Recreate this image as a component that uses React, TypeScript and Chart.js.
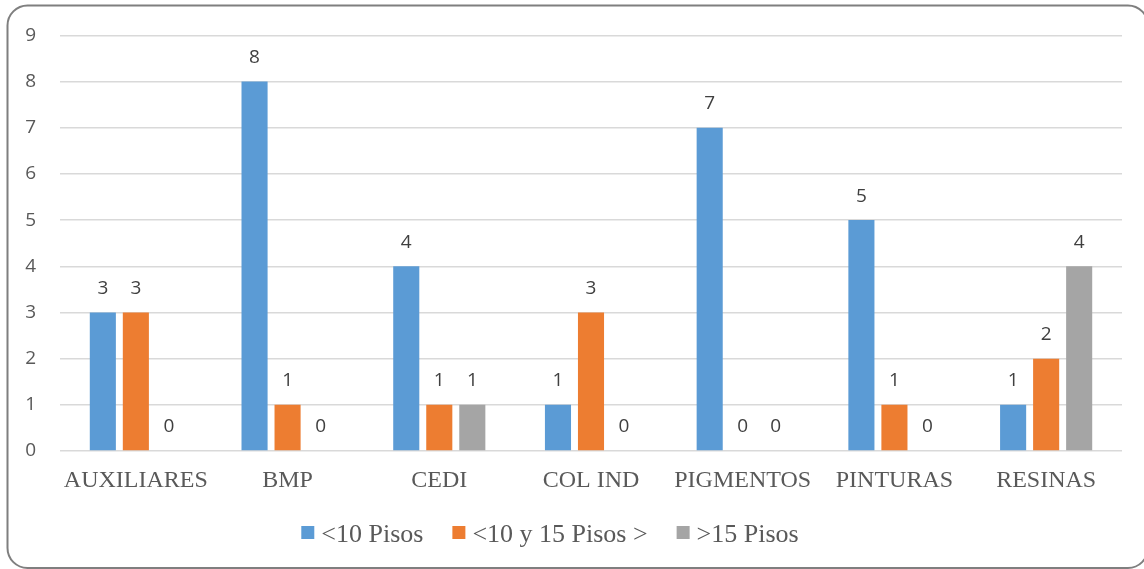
import React, { useEffect, useRef } from "react";
import { Chart, registerables } from "chart.js";

Chart.register(...registerables);

const categories = ["AUXILIARES", "BMP", "CEDI", "COL IND", "PIGMENTOS", "PINTURAS", "RESINAS"];
const seriesNames = ["<10 Pisos", "<10 y 15 Pisos >", ">15 Pisos"];
const menos10 = [3, 8, 4, 1, 7, 5, 1];
const entre10y15 = [3, 1, 1, 3, 0, 1, 2];
const mas15 = [0, 0, 1, 0, 0, 0, 4];
const seriesColors = ["#5B9BD5", "#ED7D31", "#A5A5A5"];

const SANS = "'Open Sans', 'Liberation Sans', sans-serif";
const SERIF = "'Liberation Serif', 'DejaVu Serif', serif";
const TEXT = "#595959";

// Rounded outline around the whole chart
const framePlugin = {
  id: "frame",
  beforeDraw(chart: any) {
    const ctx = chart.ctx;
    const x = 7.5, y = 5.5, r = 20;
    const w = 1148 - x, h = 568 - y;
    ctx.save();
    ctx.fillStyle = "#ffffff";
    ctx.fillRect(0, 0, chart.width, chart.height);
    ctx.beginPath();
    ctx.moveTo(x + r, y);
    ctx.lineTo(x + w - r, y);
    ctx.arcTo(x + w, y, x + w, y + r, r);
    ctx.lineTo(x + w, y + h - r);
    ctx.arcTo(x + w, y + h, x + w - r, y + h, r);
    ctx.lineTo(x + r, y + h);
    ctx.arcTo(x, y + h, x, y + h - r, r);
    ctx.lineTo(x, y + r);
    ctx.arcTo(x, y, x + r, y, r);
    ctx.closePath();
    ctx.strokeStyle = "#7f7f7f";
    ctx.lineWidth = 2;
    ctx.stroke();
    ctx.restore();
  },
};

// Value labels above each bar
const valueLabelPlugin = {
  id: "valueLabels",
  afterDatasetsDraw(chart: any) {
    const ctx = chart.ctx;
    ctx.save();
    ctx.font = `19px ${SANS}`;
    ctx.fillStyle = "#404040";
    ctx.textAlign = "center";
    ctx.textBaseline = "middle";
    chart.data.datasets.forEach((ds: any, i: number) => {
      const meta = chart.getDatasetMeta(i);
      meta.data.forEach((bar: any, j: number) => {
        ctx.fillText(String(ds.data[j]), bar.x, bar.y - 24);
      });
    });
    ctx.restore();
  },
};

// Compact legend row under the x axis (square swatch, tight gap to the text)
const legendRowPlugin = {
  id: "legendRow",
  afterDraw(chart: any) {
    const ctx = chart.ctx;
    const box = 13;
    const textGap = 7;
    const itemGap = 29;
    const baseline = 542;
    ctx.save();
    ctx.font = `26px ${SERIF}`;
    ctx.textBaseline = "alphabetic";
    ctx.textAlign = "left";
    const items = chart.data.datasets.map((ds: any) => ({
      text: ds.label as string,
      color: ds.backgroundColor as string,
      w: ctx.measureText(ds.label).width,
    }));
    const total =
      items.reduce((s: number, it: any) => s + box + textGap + it.w, 0) + itemGap * (items.length - 1);
    let x = (chart.width - total) / 2 - 22;
    items.forEach((it: any) => {
      ctx.fillStyle = it.color;
      ctx.fillRect(x, baseline - 16, box, box);
      x += box + textGap;
      ctx.fillStyle = TEXT;
      ctx.fillText(it.text, x, baseline);
      x += it.w + itemGap;
    });
    ctx.restore();
  },
};

export default function App() {
  const canvasRef = useRef<HTMLCanvasElement | null>(null);

  useEffect(() => {
    document.body.style.margin = "0";
    const canvas = canvasRef.current;
    if (!canvas) return;
    const chart = new Chart(canvas, {
      type: "bar",
      data: {
        labels: categories,
        datasets: [menos10, entre10y15, mas15].map((d, i) => ({
          label: seriesNames[i],
          data: d,
          backgroundColor: seriesColors[i],
          borderWidth: 0,
          categoryPercentage: 0.653,
          barPercentage: 0.79,
        })),
      },
      options: {
        animation: false,
        responsive: false,
        maintainAspectRatio: false,
        layout: { padding: { top: 29, right: 22, left: 0, bottom: 68 } },
        plugins: {
          tooltip: { enabled: false },
          legend: { display: false },
        },
        scales: {
          x: {
            grid: { display: false },
            border: { display: false },
            ticks: { color: TEXT, font: { family: SERIF, size: 24 }, padding: 7, maxRotation: 0 },
            afterFit(s: any) {
              s.height = 50;
            },
          },
          y: {
            min: 0,
            max: 9,
            grid: { color: "#d9d9d9", lineWidth: 1.5, drawTicks: false },
            border: { display: false },
            ticks: { stepSize: 1, color: TEXT, font: { family: SANS, size: 19 }, padding: 24 },
            afterFit(s: any) {
              s.width = 60;
            },
          },
        },
      },
      plugins: [framePlugin, valueLabelPlugin, legendRowPlugin],
    });
    return () => chart.destroy();
  }, []);

  return (
    <div style={{ position: "absolute", left: 0, top: 0, width: 1144, height: 569 }}>
      <canvas ref={canvasRef} width={1144} height={569} />
    </div>
  );
}
